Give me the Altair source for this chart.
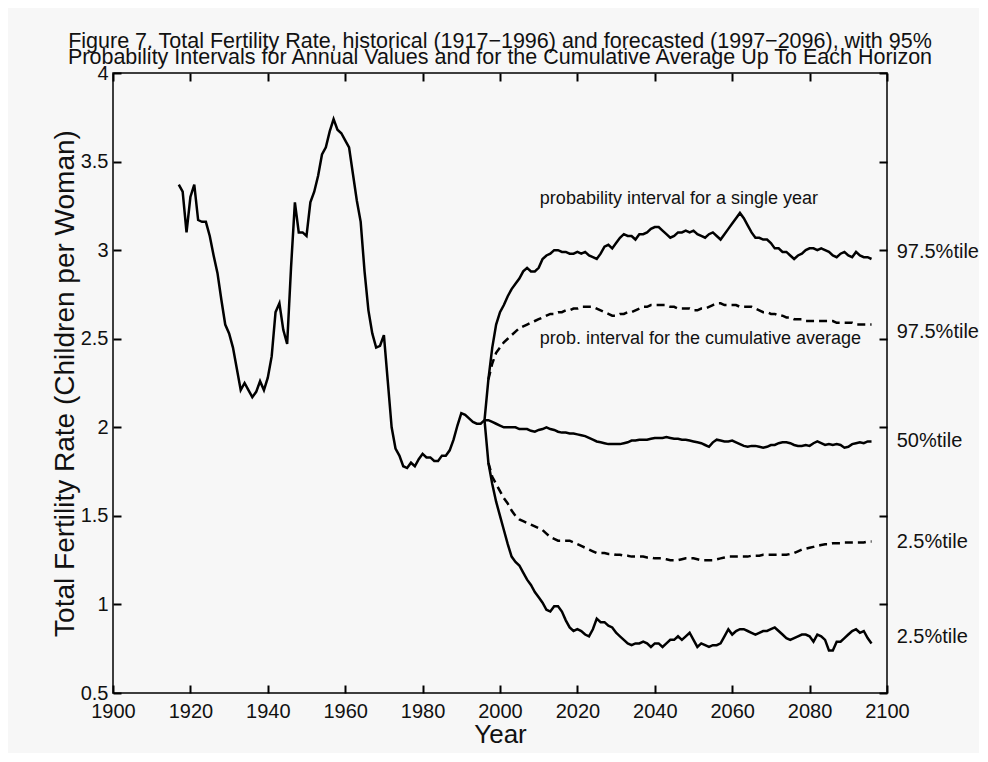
import altair as alt
import pandas as pd

# ---------------- data ----------------
hist_years = list(range(1917, 1997))
hist_tfr = [3.37, 3.33, 3.10, 3.30, 3.37, 3.17, 3.16, 3.16, 3.08, 2.97,
            2.87, 2.72, 2.58, 2.53, 2.45, 2.33, 2.21, 2.25, 2.21, 2.17,
            2.20, 2.26, 2.21, 2.28, 2.40, 2.65, 2.70, 2.55, 2.47, 2.90,
            3.27, 3.10, 3.10, 3.08, 3.27, 3.33, 3.42, 3.54, 3.58, 3.67,
            3.74, 3.68, 3.66, 3.62, 3.58, 3.43, 3.28, 3.16, 2.88, 2.66,
            2.53, 2.45, 2.46, 2.52, 2.26, 2.00, 1.88, 1.84, 1.78, 1.77,
            1.80, 1.78, 1.82, 1.85, 1.83, 1.83, 1.81, 1.81, 1.84, 1.84,
            1.87, 1.93, 2.01, 2.08, 2.07, 2.05, 2.03, 2.02, 2.02, 2.04]

fc_years = list(range(1997, 2097))

upper_975 = [2.27, 2.45, 2.58, 2.65, 2.69, 2.74, 2.78, 2.81, 2.84, 2.88,
             2.90, 2.88, 2.88, 2.90, 2.95, 2.97, 2.98, 3.00, 3.00, 2.99,
             2.99, 2.98, 2.98, 2.99, 2.98, 2.99, 2.97, 2.96, 2.95, 2.98,
             3.02, 3.03, 3.01, 3.04, 3.07, 3.09, 3.08, 3.08, 3.06, 3.09,
             3.09, 3.10, 3.12, 3.13, 3.13, 3.11, 3.09, 3.07, 3.08, 3.10,
             3.10, 3.11, 3.10, 3.11, 3.09, 3.08, 3.07, 3.09, 3.10, 3.08,
             3.06, 3.09, 3.12, 3.15, 3.18, 3.21, 3.18, 3.14, 3.10, 3.07,
             3.07, 3.06, 3.06, 3.04, 3.01, 3.01, 2.99, 2.99, 2.97, 2.95,
             2.97, 2.98, 3.00, 3.01, 3.01, 3.00, 3.01, 3.00, 2.99, 2.97,
             2.96, 2.98, 2.99, 2.97, 2.96, 2.99, 2.97, 2.96, 2.96, 2.95]

median_50 = [2.04, 2.03, 2.02, 2.01, 2.00, 2.00, 2.00, 2.00, 1.99, 1.99,
             1.99, 1.98, 1.975, 1.985, 1.99, 2.00, 1.99, 1.985, 1.975, 1.97,
             1.97, 1.965, 1.965, 1.96, 1.955, 1.95, 1.94, 1.93, 1.92, 1.915,
             1.91, 1.905, 1.905, 1.905, 1.905, 1.91, 1.915, 1.925, 1.925, 1.93,
             1.93, 1.93, 1.935, 1.94, 1.94, 1.94, 1.945, 1.94, 1.935, 1.935,
             1.93, 1.93, 1.925, 1.92, 1.915, 1.91, 1.90, 1.89, 1.915, 1.93,
             1.925, 1.92, 1.92, 1.925, 1.915, 1.905, 1.895, 1.89, 1.895, 1.895,
             1.89, 1.885, 1.89, 1.90, 1.90, 1.91, 1.915, 1.915, 1.91, 1.90,
             1.895, 1.895, 1.90, 1.895, 1.91, 1.92, 1.91, 1.90, 1.905, 1.90,
             1.905, 1.90, 1.885, 1.89, 1.905, 1.91, 1.915, 1.91, 1.92, 1.92]

lower_025 = [1.80, 1.68, 1.58, 1.50, 1.42, 1.34, 1.27, 1.24, 1.22, 1.18,
             1.14, 1.11, 1.07, 1.04, 1.01, 0.97, 0.96, 0.99, 0.99, 0.96,
             0.91, 0.87, 0.85, 0.86, 0.85, 0.83, 0.82, 0.86, 0.92, 0.90,
             0.90, 0.88, 0.87, 0.84, 0.82, 0.80, 0.78, 0.77, 0.78, 0.78,
             0.79, 0.78, 0.76, 0.78, 0.78, 0.76, 0.78, 0.80, 0.80, 0.82,
             0.80, 0.82, 0.84, 0.80, 0.76, 0.78, 0.77, 0.76, 0.77, 0.77,
             0.78, 0.82, 0.86, 0.83, 0.85, 0.86, 0.86, 0.85, 0.84, 0.83,
             0.84, 0.85, 0.85, 0.86, 0.87, 0.85, 0.83, 0.81, 0.80, 0.81,
             0.82, 0.83, 0.83, 0.82, 0.79, 0.83, 0.82, 0.80, 0.74, 0.74,
             0.79, 0.79, 0.81, 0.83, 0.85, 0.86, 0.84, 0.85, 0.81, 0.78]

cum_upper_975 = [2.27, 2.36, 2.42, 2.45, 2.48, 2.50, 2.52, 2.54, 2.56, 2.57,
                 2.58, 2.59, 2.60, 2.61, 2.62, 2.63, 2.64, 2.64, 2.65, 2.65,
                 2.66, 2.66, 2.67, 2.67, 2.68, 2.68, 2.68, 2.68, 2.67, 2.66,
                 2.65, 2.64, 2.63, 2.63, 2.64, 2.64, 2.65, 2.65, 2.66, 2.67,
                 2.68, 2.68, 2.69, 2.69, 2.69, 2.69, 2.69, 2.68, 2.68, 2.67,
                 2.67, 2.67, 2.67, 2.66, 2.66, 2.67, 2.67, 2.68, 2.69, 2.70,
                 2.70, 2.69, 2.69, 2.69, 2.69, 2.68, 2.68, 2.68, 2.68, 2.67,
                 2.66, 2.65, 2.65, 2.64, 2.64, 2.63, 2.63, 2.62, 2.62, 2.61,
                 2.61, 2.61, 2.60, 2.60, 2.60, 2.60, 2.60, 2.60, 2.60, 2.60,
                 2.59, 2.59, 2.59, 2.59, 2.59, 2.58, 2.58, 2.58, 2.58, 2.58]

cum_lower_025 = [1.80, 1.72, 1.68, 1.64, 1.60, 1.57, 1.53, 1.50, 1.48, 1.47,
                 1.46, 1.45, 1.44, 1.43, 1.42, 1.40, 1.38, 1.37, 1.36, 1.36,
                 1.36, 1.36, 1.35, 1.34, 1.33, 1.32, 1.31, 1.30, 1.29, 1.29,
                 1.29, 1.285, 1.285, 1.28, 1.28, 1.275, 1.275, 1.27, 1.27, 1.27,
                 1.27, 1.265, 1.265, 1.26, 1.26, 1.26, 1.255, 1.25, 1.25, 1.25,
                 1.255, 1.26, 1.26, 1.26, 1.255, 1.25, 1.25, 1.25, 1.25, 1.255,
                 1.26, 1.265, 1.27, 1.27, 1.27, 1.27, 1.27, 1.27, 1.275, 1.275,
                 1.275, 1.28, 1.28, 1.28, 1.28, 1.28, 1.28, 1.28, 1.285, 1.29,
                 1.30, 1.31, 1.315, 1.32, 1.325, 1.33, 1.335, 1.34, 1.34, 1.345,
                 1.345, 1.345, 1.35, 1.35, 1.35, 1.35, 1.35, 1.35, 1.355, 1.355]

x_ticks = [1900, 1920, 1940, 1960, 1980, 2000, 2020, 2040, 2060, 2080, 2100]
y_ticks = [0.5, 1, 1.5, 2, 2.5, 3, 3.5, 4]

right_labels = ["97.5%tile", "97.5%tile", "50%tile", "2.5%tile", "2.5%tile"]
right_label_values = [2.99, 2.54, 1.92, 1.35, 0.815]
right_label_year = 2102.5

notes = ["probability interval for a single year",
         "prob. interval for the cumulative average"]
note_values = [3.29, 2.50]
note_year = 2010.3

title_lines = ["Figure 7.  Total Fertility Rate, historical (1917\u22121996) and forecasted (1997\u22122096), with 95%",
               "Probability Intervals for Annual Values and for the Cumulative Average Up To Each Horizon"]

# ---------------- tables ----------------
last_y, last_v = hist_years[-1], hist_tfr[-1]
rows = []
for y, v in zip(hist_years, hist_tfr):
    rows.append(("historical", y, v))
for name, vals in [("upper", upper_975), ("median", median_50), ("lower", lower_025)]:
    rows.append((name, last_y, last_v))
    for y, v in zip(fc_years, vals):
        rows.append((name, y, v))
solid = pd.DataFrame(rows, columns=["series", "year", "value"])

rows = []
for name, vals in [("cum_upper", cum_upper_975), ("cum_lower", cum_lower_025)]:
    for y, v in zip(fc_years, vals):
        rows.append((name, y, v))
dashed = pd.DataFrame(rows, columns=["series", "year", "value"])

rlab = pd.DataFrame({"label": right_labels, "value": right_label_values,
                     "year": [right_label_year] * len(right_labels)})
nlab = pd.DataFrame({"label": notes, "value": note_values,
                     "year": [note_year] * len(notes)})

FONT = "Liberation Sans"
TXT = "#111111"
W, H = 774, 620

xs = alt.Scale(domain=[1900, 2100], nice=False, zero=False)
ys = alt.Scale(domain=[0.5, 4], nice=False, zero=False)

main_x = alt.Axis(values=x_ticks, format="d", ticks=False, tickSize=0, domain=False,
                  grid=False, labelFontSize=20, labelPadding=8, labelFont=FONT,
                  labelFlush=False, labelOverlap=False,
                  labelColor=TXT, title="Year", titleFontSize=26, titleFont=FONT,
                  titleFontWeight="normal", titleColor=TXT, titlePadding=0)
main_y = alt.Axis(values=y_ticks, format="~g", ticks=False, tickSize=0, domain=False,
                  grid=False, labelFontSize=20, labelPadding=5, labelFont=FONT,
                  labelFlush=False, labelOverlap=False,
                  labelColor=TXT, title="Total Fertility Rate (Children per Woman)",
                  titleFontSize=28, titleFont=FONT, titleFontWeight="normal",
                  titleColor=TXT, titlePadding=1)


def tick_axis(orient, off, vals):
    return alt.Axis(orient=orient, offset=off, values=vals, labels=False, title=None,
                    domain=False, grid=False, ticks=True, tickSize=8, tickWidth=2,
                    tickColor="black")


xt1 = tick_axis("top", -H, x_ticks)
yt1 = tick_axis("right", -W, y_ticks)
xt2 = tick_axis("bottom", -H, x_ticks)
yt2 = tick_axis("left", -W, y_ticks)

hist_line = alt.Chart(solid).mark_line(color="black", strokeWidth=2.5, clip=True).encode(
    x=alt.X("year:Q", scale=xs, axis=main_x),
    y=alt.Y("value:Q", scale=ys, axis=main_y),
    detail="series:N",
)

dash_line = alt.Chart(dashed).mark_line(color="black", strokeWidth=2.5,
                                         strokeDash=[8, 5], clip=True).encode(
    x=alt.X("year:Q", scale=xs, axis=xt1),
    y=alt.Y("value:Q", scale=ys, axis=yt1),
    detail="series:N",
)

right_text = alt.Chart(rlab).mark_text(align="left", baseline="middle", fontSize=20,
                                       font=FONT, color=TXT).encode(
    x=alt.X("year:Q", scale=xs, axis=xt2),
    y=alt.Y("value:Q", scale=ys, axis=yt2),
    text="label:N",
)

note_text = alt.Chart(nlab).mark_text(align="left", baseline="middle", fontSize=18,
                                      font=FONT, color=TXT).encode(
    x=alt.X("year:Q", scale=xs, axis=None),
    y=alt.Y("value:Q", scale=ys, axis=None),
    text="label:N",
)

chart = alt.layer(hist_line, dash_line, right_text, note_text).resolve_axis(
    x="independent", y="independent"
).properties(
    width=W, height=H,
    background="#f7f7f7",
    padding={"left": 105, "top": 65, "right": 92, "bottom": 60},
    autosize=alt.AutoSizeParams(type="none"),
    title=alt.TitleParams(text=title_lines, fontSize=21.5, lineHeight=16, font=FONT,
                          fontWeight="normal", color=TXT, anchor="middle",
                          offset=-27, baseline="bottom"),
).configure_view(stroke="black", strokeWidth=1.5)

chart.save("out.html", embed_options={"renderer": "svg", "actions": False})
